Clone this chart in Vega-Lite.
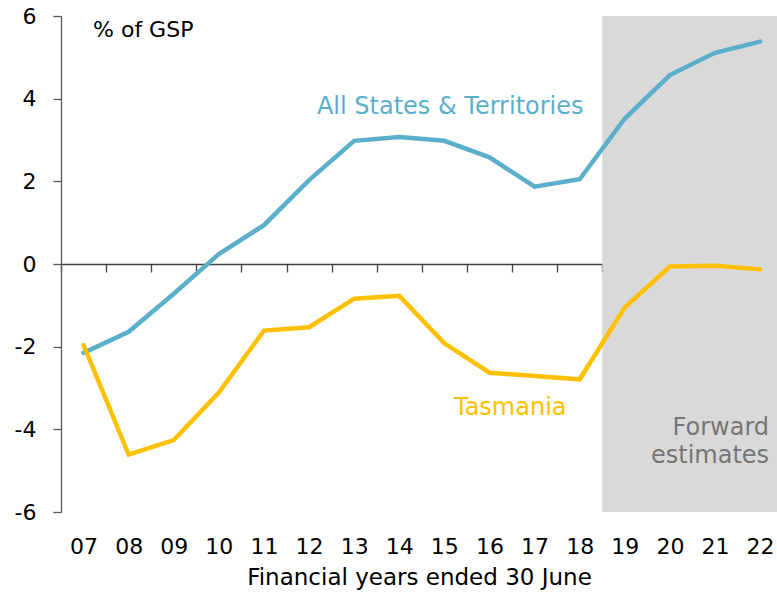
{
  "$schema": "https://vega.github.io/schema/vega-lite/v6.json",
  "width": 716,
  "height": 496,
  "autosize": "none",
  "padding": {"left": 61, "top": 16, "right": 0, "bottom": 83},
  "background": "white",
  "config": {
    "view": {"stroke": null},
    "font": "DejaVu Sans",
    "axis": {"labelFont": "DejaVu Sans", "titleFont": "DejaVu Sans", "labelColor": "#000000", "titleColor": "#000000", "grid": false}
  },
  "datasets": {
    "series": [
      {"year": 7, "series": "All States & Territories", "value": -2.15},
      {"year": 8, "series": "All States & Territories", "value": -1.64},
      {"year": 9, "series": "All States & Territories", "value": -0.72},
      {"year": 10, "series": "All States & Territories", "value": 0.24},
      {"year": 11, "series": "All States & Territories", "value": 0.94},
      {"year": 12, "series": "All States & Territories", "value": 2.03},
      {"year": 13, "series": "All States & Territories", "value": 2.98},
      {"year": 14, "series": "All States & Territories", "value": 3.07},
      {"year": 15, "series": "All States & Territories", "value": 2.98},
      {"year": 16, "series": "All States & Territories", "value": 2.58},
      {"year": 17, "series": "All States & Territories", "value": 1.87},
      {"year": 18, "series": "All States & Territories", "value": 2.05},
      {"year": 19, "series": "All States & Territories", "value": 3.52},
      {"year": 20, "series": "All States & Territories", "value": 4.57},
      {"year": 21, "series": "All States & Territories", "value": 5.11},
      {"year": 22, "series": "All States & Territories", "value": 5.38},
      {"year": 7, "series": "Tasmania", "value": -1.96},
      {"year": 8, "series": "Tasmania", "value": -4.61},
      {"year": 9, "series": "Tasmania", "value": -4.26},
      {"year": 10, "series": "Tasmania", "value": -3.11},
      {"year": 11, "series": "Tasmania", "value": -1.61},
      {"year": 12, "series": "Tasmania", "value": -1.53},
      {"year": 13, "series": "Tasmania", "value": -0.84},
      {"year": 14, "series": "Tasmania", "value": -0.77},
      {"year": 15, "series": "Tasmania", "value": -1.92},
      {"year": 16, "series": "Tasmania", "value": -2.63},
      {"year": 17, "series": "Tasmania", "value": -2.71},
      {"year": 18, "series": "Tasmania", "value": -2.79},
      {"year": 19, "series": "Tasmania", "value": -1.05},
      {"year": 20, "series": "Tasmania", "value": -0.06},
      {"year": 21, "series": "Tasmania", "value": -0.04},
      {"year": 22, "series": "Tasmania", "value": -0.13}
    ],
    "forecast": [{"start": 18.5, "end": 22.5, "low": -6, "high": 6}],
    "one": [{}]
  },
  "resolve": {"axis": {"x": "independent"}},
  "layer": [
    {
      "data": {"name": "forecast"},
      "mark": {"type": "rect", "color": "#D9D9D9", "clip": true},
      "encoding": {
        "x": {"field": "start", "type": "quantitative", "scale": {"domain": [6.5, 22.375], "nice": false, "zero": false},
          "axis": {"orient": "bottom", "values": [7,8,9,10,11,12,13,14,15,16,17,18,19,20,21,22],
            "labelExpr": "datum.value < 10 ? '0' + datum.value : '' + datum.value",
            "domain": false, "ticks": false, "labelFontSize": 22, "labelPadding": 24,
            "title": "Financial years ended 30 June", "titleFontSize": 23, "titleFontWeight": "normal", "titlePadding": 9, "labelFlush": false, "labelOverlap": false}},
        "x2": {"field": "end"},
        "y": {"field": "low", "type": "quantitative", "scale": {"domain": [-6, 6], "nice": false},
          "axis": {"values": [-6,-4,-2,0,2,4,6], "labelExpr": "'' + datum.value", "domainColor": "#595959", "domainWidth": 1.3, "tickColor": "#595959", "tickWidth": 1.3, "tickSize": 8, "labelFontSize": 22, "labelPadding": 17, "title": null}},
        "y2": {"field": "high"}
      }
    },
    {
      "data": {"name": "series"},
      "mark": {"type": "line", "strokeWidth": 4.5, "strokeCap": "round", "strokeJoin": "miter"},
      "encoding": {
        "x": {"field": "year", "type": "quantitative",
          "axis": {"orient": "bottom", "offset": -248, "values": [6.5,7.5,8.5,9.5,10.5,11.5,12.5,13.5,14.5,15.5,16.5,17.5,18.5,19.5,20.5,21.5],
            "labels": false, "title": null, "domainColor": "#404040", "domainWidth": 1.5, "tickColor": "#404040", "tickWidth": 1.3, "tickSize": 8}},
        "y": {"field": "value", "type": "quantitative"},
        "color": {"field": "series", "type": "nominal", "legend": null,
          "scale": {"domain": ["All States & Territories", "Tasmania"], "range": ["#5BAFCA", "#FFC000"]}}
      }
    },
    {
      "data": {"name": "one"},
      "mark": {"type": "text", "text": "All States & Territories", "color": "#5BAFCA", "fontSize": 24, "align": "center", "baseline": "middle"},
      "encoding": {"x": {"datum": 15.13, "type": "quantitative", "axis": null}, "y": {"datum": 3.8, "type": "quantitative"}}
    },
    {
      "data": {"name": "one"},
      "mark": {"type": "text", "text": "Tasmania", "color": "#FFC000", "fontSize": 24, "align": "center", "baseline": "middle"},
      "encoding": {"x": {"datum": 16.46, "type": "quantitative", "axis": null}, "y": {"datum": -3.48, "type": "quantitative"}}
    },
    {
      "data": {"name": "one"},
      "mark": {"type": "text", "text": ["Forward", "estimates"], "color": "#767676", "fontSize": 24, "align": "right", "baseline": "middle", "lineHeight": 28},
      "encoding": {"x": {"datum": 22.2, "type": "quantitative", "axis": null}, "y": {"datum": -3.97, "type": "quantitative"}}
    },
    {
      "data": {"name": "one"},
      "mark": {"type": "text", "text": "% of GSP", "color": "#000000", "fontSize": 22, "align": "left", "baseline": "middle"},
      "encoding": {"x": {"datum": 7.21, "type": "quantitative", "axis": null}, "y": {"datum": 5.67, "type": "quantitative"}}
    }
  ]
}
